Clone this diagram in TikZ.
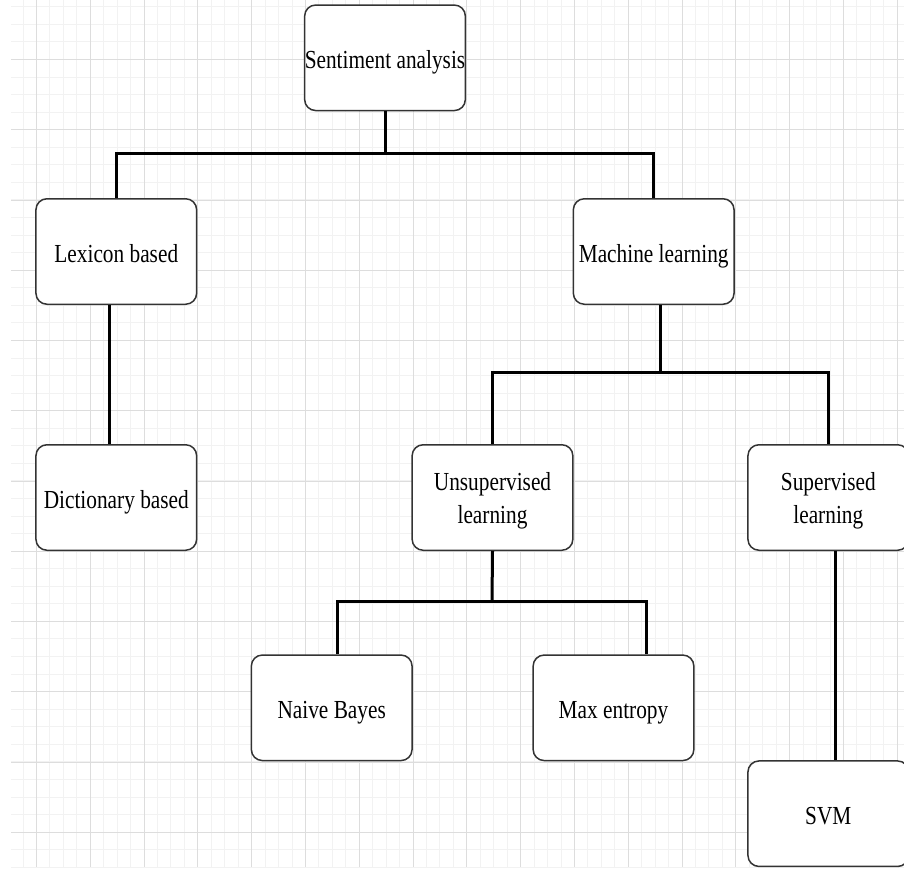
\documentclass[tikz,border=0pt]{standalone}
\usepackage{fontspec}
\setmainfont{Liberation Serif}[FakeStretch=0.82]
\definecolor{gridminor}{HTML}{F2F2F2}
\definecolor{gridmajor}{HTML}{DDDDDD}
\definecolor{boxline}{HTML}{333333}
\tikzset{
  box/.style={draw=boxline, line width=1.5pt, fill=white, rounded corners=11pt,
    minimum width=160.7pt, minimum height=105.5pt, align=center, inner sep=0pt,
    font=\fontsize{26}{33}\selectfont, text=black, text height=21pt, text depth=0pt},
  twoline/.style={text height=51pt},
  conn/.style={line width=3pt, draw=black},
}
\begin{document}
\begin{tikzpicture}[x=1pt,y=-1pt]
\useasboundingbox (0,0) rectangle (904,869);
\fill[white] (0,0) rectangle (904,869);
\clip (0,0) rectangle (904,869);
% grid
\begin{scope}
\clip (11,0) rectangle (904,867);
\foreach \i in {-3,...,64} {
  \pgfmathsetmacro{\gx}{round(36+13.45*\i)+0.5}
  \draw[gridminor, line width=1pt] (\gx,0) -- (\gx,867);
}
\foreach \i in {-4,...,46} {
  \pgfmathsetmacro{\gy}{round(59+17.56*\i)+0.5}
  \draw[gridminor, line width=1pt] (11,\gy) -- (904,\gy);
}
\foreach \i in {0,...,16} {
  \pgfmathsetmacro{\gx}{round(36+53.8*\i)+0.5}
  \draw[gridmajor, line width=1pt] (\gx,0) -- (\gx,867);
}
\foreach \i in {-1,...,11} {
  \pgfmathsetmacro{\gy}{round(59+70.25*\i)+0.5}
  \draw[gridmajor, line width=1pt] (11,\gy) -- (904,\gy);
}
\end{scope}
% nodes
\node[box] (sa) at (385,57.8) {Sentiment analysis};
\node[box] (lex) at (116.3,251.5) {Lexicon based};
\node[box] (ml) at (653.7,251.5) {Machine learning};
\node[box] (dict) at (116.3,497.5) {Dictionary based};
\node[box, twoline] (unsup) at (492.5,497.5) {Unsupervised\\learning};
\node[box, twoline] (sup) at (828.3,497.5) {Supervised\\learning};
\node[box] (nb) at (331.7,707.8) {Naive Bayes};
\node[box] (me) at (613.5,707.8) {Max entropy};
\node[box] (svm) at (828.3,813.7) {SVM};
% junction coordinates
\coordinate (j1) at (385,153.5);
\coordinate (j2) at (660,372.5);
\coordinate (j3) at (492,601.7);
% connectors
\draw[conn] (sa.south) -- (j1);
\draw[conn] (lex.north) |- (j1);
\draw[conn] (ml.north) |- (j1);
\draw[conn] ([xshift=-7.3pt]lex.south) -- ([xshift=-7.3pt]dict.north);
\draw[conn] ([xshift=6.3pt]ml.south) -- (j2);
\draw[conn] (unsup.north) |- (j2);
\draw[conn] (sup.north) |- (j2);
\draw[conn] (unsup.south) -- (j3);
\draw[conn] ([xshift=5.6pt]nb.north) |- (j3);
\draw[conn] ([xshift=33.2pt]me.north) |- (j3);
\draw[conn] ([xshift=6.7pt]sup.south) -- ([xshift=6.7pt]svm.north);
\end{tikzpicture}
\end{document}
